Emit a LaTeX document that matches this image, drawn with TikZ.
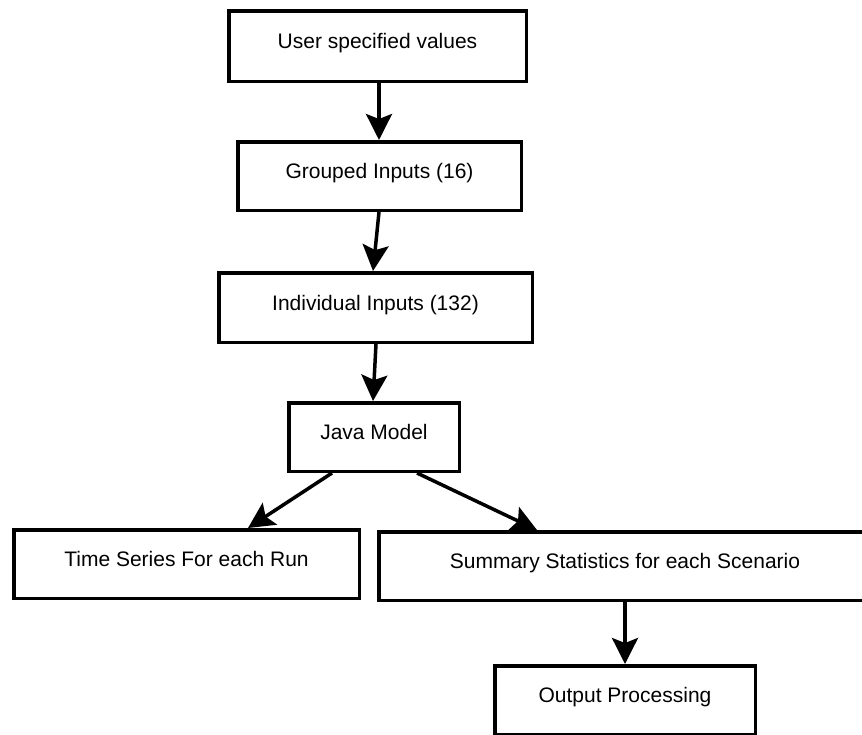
\documentclass[tikz,border=0pt]{standalone}
\usepackage{fontspec}
\setmainfont{Liberation Sans}
\usetikzlibrary{arrows.meta}
\begin{document}
\begin{tikzpicture}[x=1pt,y=-1pt,
  box/.style={draw=black, line width=3.5pt, rectangle, inner sep=0pt,
    font=\fontsize{21}{25}\selectfont, text height=15pt, text depth=10pt},
  arr/.style={line width=3.5pt, -{Stealth[length=26pt,width=26pt,inset=5pt]}}]
\clip (0,0) rectangle (862,734);
\useasboundingbox (0,0) rectangle (862,734);
\fill[white] (0,0) rectangle (862,734);

% process boxes
\node[box, minimum width=297.5pt, minimum height=70.5pt] (b1) at (377.5,46) {User specified values};
\node[box, minimum width=283.5pt, minimum height=68.5pt] (b2) at (379.5,176) {Grouped Inputs (16)};
\node[box, minimum width=313.5pt, minimum height=69.5pt] (b3) at (375.5,307.5) {Individual Inputs (132)};
\node[box, minimum width=170.5pt, minimum height=68.5pt] (b4) at (374,437) {Java Model};
\node[box, minimum width=345.5pt, minimum height=68.5pt] (b5) at (186.5,564) {Time Series For each Run};
\node[box, minimum width=492.5pt, minimum height=68.5pt] (b6) at (625,566) {Summary Statistics for each Scenario};
\node[box, minimum width=260.5pt, minimum height=68.5pt] (b7) at (625,700) {Output Processing};

% flow arrows
\draw[arr] ([xshift=1.5pt]b1.south) -- ([xshift=-0.5pt]b2.north);
\draw[arr] ([xshift=-0.5pt]b2.south) -- ([xshift=-2.5pt]b3.north);
\draw[arr] ([xshift=0.5pt]b3.south) -- ([xshift=-1pt]b4.north);
\draw[arr] ([xshift=-42pt]b4.south) -- ([xshift=61.5pt]b5.north);
\draw[arr] ([xshift=43pt]b4.south) -- ([xshift=-88pt]b6.north);
\draw[arr] (b6.south) -- (b7.north);
\end{tikzpicture}
\end{document}
